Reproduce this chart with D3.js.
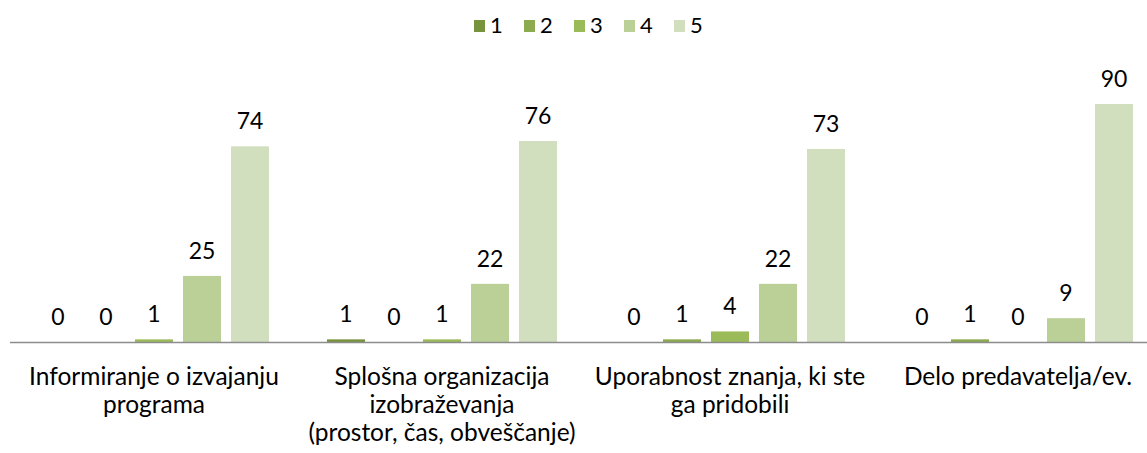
<!DOCTYPE html>
<meta charset="utf-8">
<script src="https://d3js.org/d3.v7.min.js"></script>
<style>
  body { margin: 0; background: #fff; }
  text { font-family: Lato, "Open Sans", sans-serif; fill: #000; }
</style>
<div id="my_dataviz"></div>
<script>

// categories (x axis), one label per line
var categories = [
  ["Informiranje o izvajanju", "programa"],
  ["Splošna organizacija", "izobraževanja", "(prostor, čas, obveščanje)"],
  ["Uporabnost znanja, ki ste", "ga pridobili"],
  ["Delo predavatelja/ev."]
];
var series = ["1", "2", "3", "4", "5"];
var s1 = [0, 1, 0, 0];
var s2 = [0, 0, 1, 1];
var s3 = [1, 1, 4, 0];
var s4 = [25, 22, 22, 9];
var s5 = [74, 76, 73, 90];
var colors = ["#77933c", "#8cab4f", "#9bbb59", "#bad097", "#d2dfbe"];

var values = [s1, s2, s3, s4, s5];

var width = 1147, height = 453;
var baseY = 342;

var svg = d3.select("#my_dataviz")
  .append("svg")
    .attr("width", width)
    .attr("height", height);

// x scale: plot area runs a bit past the right edge
var x = d3.scaleBand()
  .domain(d3.range(categories.length))
  .range([10, 1162])
  .paddingInner(0)
  .paddingOuter(0);

var xSub = d3.scaleBand()
  .domain(series)
  .range([29, 259])
  .paddingInner(10 / 48)
  .paddingOuter(0);

var y = d3.scaleLinear()
  .domain([0, 90])
  .range([baseY, 104]);

var color = d3.scaleOrdinal().domain(series).range(colors);

// flatten data
var data = [];
categories.forEach(function(c, i) {
  series.forEach(function(s, j) {
    data.push({cat: i, key: s, value: values[j][i]});
  });
});

var groups = svg.append("g").selectAll("g")
  .data(data)
  .enter().append("g")
    .attr("transform", function(d) { return "translate(" + x(d.cat) + ",0)"; });

groups.append("rect")
  .attr("x", function(d) { return xSub(d.key); })
  .attr("y", function(d) { return y(d.value); })
  .attr("width", xSub.bandwidth())
  .attr("height", function(d) { return baseY - y(d.value); })
  .attr("fill", function(d) { return color(d.key); });

groups.append("text")
  .attr("x", function(d) { return xSub(d.key) + xSub.bandwidth() / 2; })
  .attr("y", function(d) { return y(d.value) - 17; })
  .attr("text-anchor", "middle")
  .style("font-size", "23px")
  .text(function(d) { return d.value; });

// axis line
svg.append("line")
  .attr("x1", 10).attr("x2", width)
  .attr("y1", baseY + 0.5).attr("y2", baseY + 0.5)
  .attr("stroke", "#8c8c8c")
  .attr("stroke-width", 1.5);

// category labels
var labels = svg.append("g").selectAll("text")
  .data(categories)
  .enter().append("text")
    .attr("text-anchor", "middle")
    .style("font-size", "24.5px");

labels.selectAll("tspan")
  .data(function(d, i) { return d.map(function(t) { return {t: t, i: i}; }); })
  .enter().append("tspan")
    .attr("x", function(d) { return x(d.i) + x.bandwidth() / 2; })
    .attr("y", function(d, k) { return 385 + k * 28; })
    .text(function(d) { return d.t; });

// legend
var legend = svg.append("g").selectAll("g")
  .data(series)
  .enter().append("g")
    .attr("transform", function(d, i) { return "translate(" + (474 + i * 50) + ",0)"; });

legend.append("rect")
  .attr("x", 0).attr("y", 20)
  .attr("width", 11).attr("height", 12)
  .attr("fill", function(d) { return color(d); });

legend.append("text")
  .attr("x", 16).attr("y", 32.5)
  .style("font-size", "22px")
  .text(function(d) { return d; });

</script>
